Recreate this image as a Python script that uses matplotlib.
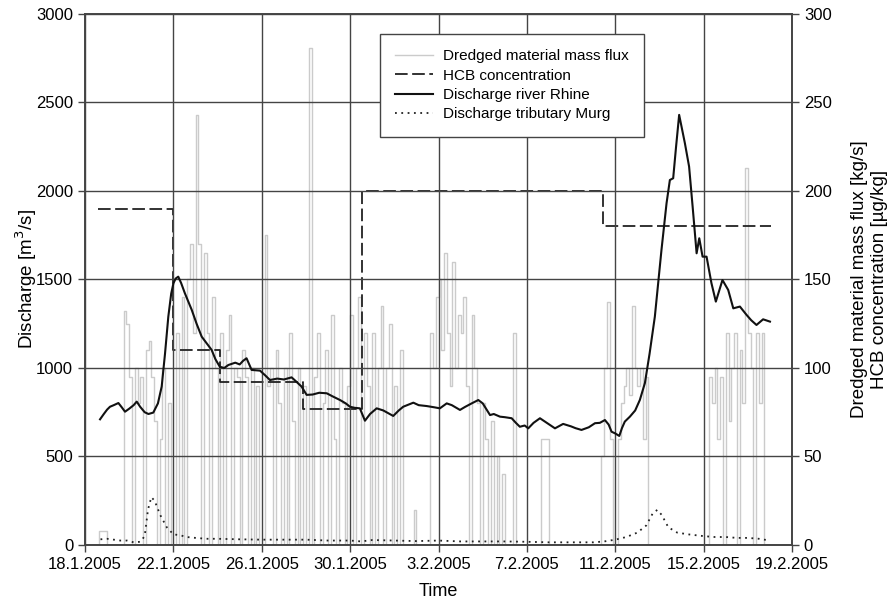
import numpy as np
import matplotlib
matplotlib.use("Agg")
import matplotlib.pyplot as plt

plt.rcParams['font.family'] = ['Liberation Sans', 'DejaVu Sans']

base = np.datetime64('2005-01-18T00:00')

# x tick positions (days after 18.1.2005) and their labels
tick_days = [0, 4, 8, 12, 16, 20, 24, 28, 32]
tick_labels = ["18.1.2005", "22.1.2005", "26.1.2005", "30.1.2005", "3.2.2005",
               "7.2.2005", "11.2.2005", "15.2.2005", "19.2.2005"]

# Discharge river Rhine [m3/s]
rhine_days = [0.68, 0.85, 1.0, 1.13, 1.3, 1.51, 1.65, 1.81, 2.0, 2.2, 2.34, 2.5, 2.7, 2.87,
              3.09, 3.3, 3.47, 3.62, 3.77, 3.9, 4.0, 4.1, 4.22, 4.35, 4.52, 4.83, 5.05,
              5.28, 5.5, 5.73, 5.9, 6.1, 6.3, 6.49, 6.8, 7.0, 7.15, 7.31, 7.54, 7.92,
              8.14, 8.37, 8.7, 9.0, 9.35, 9.5, 9.8, 10.03, 10.3, 10.6, 10.94, 11.2,
              11.54, 11.8, 11.99, 12.2, 12.44, 12.67, 12.9, 13.2, 13.5, 13.95, 14.2,
              14.4, 14.86, 15.1, 15.46, 15.8, 16.06, 16.37, 16.6, 16.97, 17.2, 17.5,
              17.8, 18.0, 18.33, 18.5, 18.78, 19.0, 19.31, 19.5, 19.68, 19.9, 20.06,
              20.3, 20.59, 20.9, 21.27, 21.64, 22.0, 22.2, 22.47, 22.8, 23.08, 23.3,
              23.53, 23.7, 23.83, 24.0, 24.18, 24.3, 24.43, 24.66, 24.9, 25.11, 25.34,
              25.55, 25.79, 26.09, 26.32, 26.47, 26.62, 26.75, 26.89, 27.02, 27.15,
              27.34, 27.5, 27.68, 27.8, 27.95, 28.13, 28.35, 28.55, 28.85, 29.11,
              29.34, 29.64, 29.94, 30.15, 30.39, 30.69, 31.0]
rhine_vals = [710, 740, 765, 781, 790, 802, 780, 753, 770, 790, 810, 780, 750, 740,
              748, 800, 895, 1080, 1290, 1420, 1478, 1505, 1516, 1480, 1422, 1328, 1250,
              1177, 1140, 1102, 1050, 1007, 1000, 1017, 1030, 1020, 1040, 1055, 989, 985,
              960, 932, 940, 935, 947, 930, 895, 848, 850, 860, 857, 840,
              819, 800, 781, 775, 772, 702, 740, 772, 760, 729, 760,
              781, 804, 790, 785, 778, 772, 800, 790, 763, 780, 800,
              819, 800, 734, 740, 725, 722, 716, 690, 668, 675, 659,
              690, 716, 690, 659, 684, 670, 660, 650, 665, 688, 690,
              706, 680, 640, 630, 616, 660, 697, 725, 760, 819, 915,
              1080, 1290, 1667, 1931, 2062, 2072, 2250, 2430, 2350, 2270,
              2138, 1911, 1648, 1733, 1629, 1629, 1480, 1375, 1497, 1441,
              1337, 1347, 1300, 1270, 1243, 1275, 1262]

# Discharge tributary Murg [m3/s]
murg_days = [0.7, 1.0, 1.3, 1.6, 1.9, 2.2, 2.5, 2.7, 2.85, 3.0, 3.15, 3.4, 3.7, 4.0, 4.3,
             4.6, 5.0, 5.5, 6, 7, 8, 9, 10, 11, 12, 12.5, 13, 14, 15, 16, 17, 18, 19,
             20, 21, 22, 23, 23.5, 24, 24.5, 25, 25.4, 25.7, 25.9, 26.1, 26.4, 26.8,
             27.3, 28, 28.5, 29, 29.5, 30, 30.5, 31]
murg_vals = [32, 35, 30, 25, 25, 15, 18, 50, 200, 270, 250, 170, 100, 60, 55,
             45, 40, 35, 35, 32, 30, 30, 30, 25, 25, 20, 28, 25, 22, 25, 20, 20, 20,
             18, 15, 15, 15, 20, 30, 45, 70, 110, 180, 198, 170, 100, 70,
             60, 50, 45, 45, 40, 40, 35, 25]

# HCB concentration [ug/kg], step values
hcb_days = [0.6, 4.0, 6.1, 9.85, 12.52, 23.45, 31.05]
hcb_vals = [190, 110, 92, 77, 200, 180, 180]

# Dredged material mass flux [kg/s], 3-hourly values, one row per day
flux = [
    0, 0, 0, 0, 0, 8, 8, 8,
    0, 0, 0, 0, 0, 0, 132, 125,
    95, 0, 100, 80, 95, 0, 110, 115,
    95, 70, 0, 60, 100, 0, 80, 0,
    0, 120, 0, 140, 0, 150, 170, 120,
    243, 170, 0, 165, 120, 0, 140, 100,
    0, 120, 0, 110, 130, 0, 100, 95,
    0, 110, 95, 0, 100, 0, 90, 0,
    0, 175, 90, 100, 0, 110, 80, 0,
    100, 0, 120, 70, 0, 100, 0, 90,
    0, 281, 0, 95, 120, 0, 80, 110,
    0, 130, 60, 0, 100, 80, 0, 90,
    130, 0, 100, 140, 0, 120, 90, 0,
    120, 0, 100, 135, 0, 100, 125, 0,
    90, 0, 110, 0, 0, 0, 0, 20,
    0, 0, 0, 0, 0, 120, 100, 140,
    150, 110, 165, 120, 90, 160, 100, 130,
    120, 140, 90, 0, 130, 100, 80, 0,
    80, 60, 0, 70, 0, 50, 0, 40,
    0, 0, 0, 120, 0, 0, 0, 0,
    0, 0, 0, 0, 0, 60, 60, 60,
    0, 0, 0, 0, 0, 0, 0, 0,
    0, 0, 0, 0, 0, 0, 0, 0,
    0, 0, 0, 50, 100, 137, 60, 0,
    0, 60, 80, 90, 100, 85, 135, 100,
    90, 100, 60, 95, 0, 0, 0, 0,
    0, 0, 0, 0, 0, 0, 0, 0,
    0, 0, 0, 0, 0, 0, 0, 0,
    0, 0, 95, 80, 100, 60, 95, 0,
    120, 70, 100, 120, 0, 110, 80, 213,
    120, 100, 0, 120, 80, 120, 0, 0,
    0,
]


def to_time(days):
    return base + (np.asarray(days) * 24 * 60).astype('timedelta64[m]')


flux_time = base + np.arange(len(flux)) * np.timedelta64(3, 'h')

fig = plt.figure(figsize=(8.96, 6.06), dpi=100)
ax = fig.add_axes([0.0949, 0.1007, 0.7891, 0.8762])
ax2 = ax.twinx()
ax.set_zorder(ax2.get_zorder() + 1)
ax.patch.set_visible(False)

l1, = ax2.plot(flux_time, flux, drawstyle='steps-post', color='#cbcbcb', lw=1.0,
               label='Dredged material mass flux')
l2, = ax2.plot(to_time(hcb_days), hcb_vals, drawstyle='steps-post', color='#222222',
               lw=1.3, dashes=(7, 2.5), label='HCB concentration')
l3, = ax.plot(to_time(rhine_days), rhine_vals, color='#111111', lw=1.5,
              label='Discharge river Rhine')
l4, = ax.plot(to_time(murg_days), murg_vals, color='#222222', lw=1.3, ls=(0, (1, 2.5)),
              label='Discharge tributary Murg')

ax.set_xlim(to_time(0), to_time(32))
ax.set_ylim(0, 3000)
ax2.set_ylim(0, 300)
ax.set_yticks(np.arange(0, 3001, 500))
ax2.set_yticks(np.arange(0, 301, 50))
ax.set_xticks(to_time(tick_days))
ax.set_xticklabels(tick_labels)

ax.grid(True, color='#444444', lw=1.0)
for a in (ax, ax2):
    for s in a.spines.values():
        s.set_color('#444444')
        s.set_linewidth(1.2)
    a.tick_params(labelsize=12, direction='out', length=5, color='#444444', width=1.0)

ax.set_ylabel('Discharge [m$^3$/s]', fontsize=13.5, labelpad=-2)
ax.set_xlabel('Time', fontsize=13, labelpad=8)
ax2.set_ylabel('Dredged material mass flux [kg/s]\nHCB concentration [\u00b5g/kg]',
               fontsize=13.5, labelpad=14)

leg = ax.legend(handles=[l1, l2, l3, l4], loc='upper left', bbox_to_anchor=(0.417, 0.962),
                borderaxespad=0, fontsize=11, fancybox=False, framealpha=1,
                edgecolor='#444444', borderpad=1.0, handlelength=2.5, labelspacing=0.35,
                handletextpad=0.6)
leg.get_frame().set_linewidth(1.0)

fig.savefig('out.png', dpi=100)
